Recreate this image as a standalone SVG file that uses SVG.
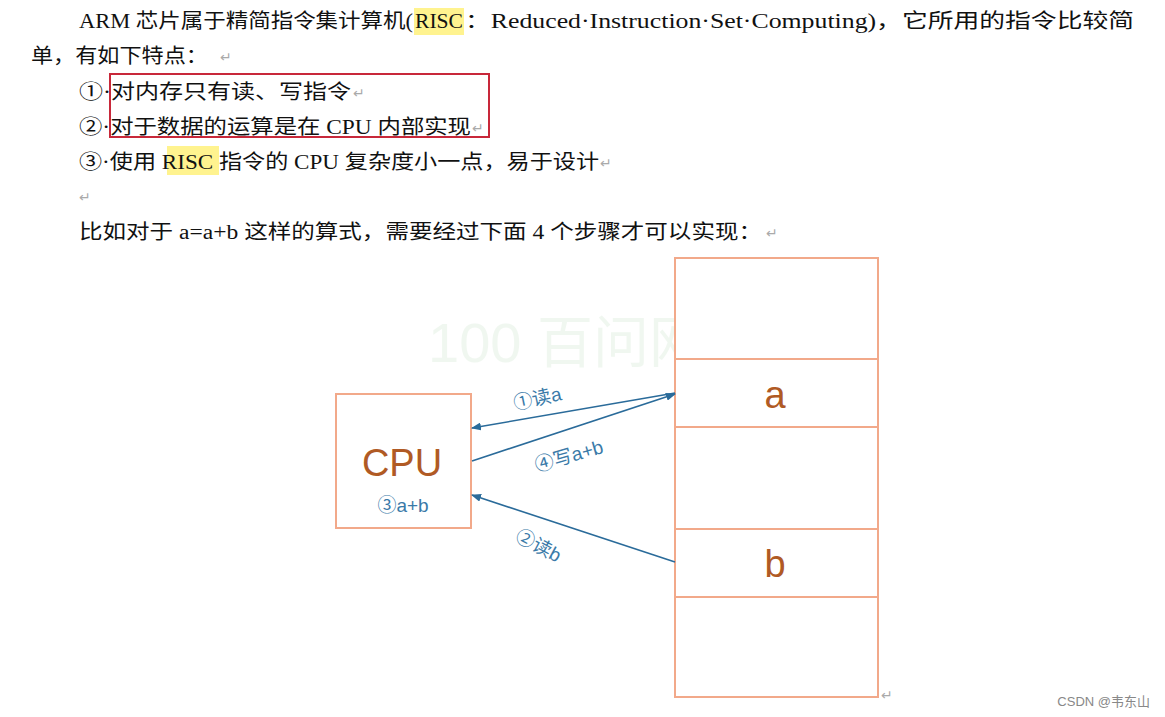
<svg xmlns="http://www.w3.org/2000/svg" width="1165" height="717" viewBox="0 0 1165 717">
<style>
.t{font-family:"Liberation Serif","Noto Sans CJK SC",serif;font-size:20px;fill:#111}
.r{fill:#aaa;font-family:"DejaVu Sans",sans-serif;font-size:14px}
.box{fill:#fff;stroke:#f2a98a;stroke-width:2}
.ln{stroke:#2a6b9a;stroke-width:1.6;fill:none}
.lb{font-family:"Liberation Sans","Noto Sans CJK SC",sans-serif;font-size:19px;fill:#3a7aa8}
.big{font-family:"Liberation Sans",sans-serif;font-size:38px;fill:#b05a24}
</style>
<defs><marker id="ah" markerWidth="10" markerHeight="8" refX="9" refY="4" orient="auto" markerUnits="userSpaceOnUse"><path d="M0,0L10,4L0,8z" fill="#2a6b9a"/></marker></defs>
<rect width="1165" height="717" fill="#fff"/>
<rect x="414" y="8" width="50" height="27" fill="#fff38f"/>
<rect x="167" y="146" width="52" height="29" fill="#fff38f"/>
<text class="t" y="28"><tspan x="79" textLength="334" lengthAdjust="spacingAndGlyphs">ARM 芯片属于精简指令集计算机(</tspan><tspan x="415" textLength="48" lengthAdjust="spacingAndGlyphs">RISC</tspan><tspan x="465" textLength="669" lengthAdjust="spacingAndGlyphs">：Reduced·Instruction·Set·Computing)，它所用的指令比较简</tspan></text>
<text class="t" x="31" y="63" textLength="177" lengthAdjust="spacingAndGlyphs">单，有如下特点：</text><text class="r" x="220" y="62">↵</text>
<text class="t" x="79" y="99" textLength="272" lengthAdjust="spacingAndGlyphs">①·对内存只有读、写指令</text><text class="r" x="353" y="98">↵</text>
<text class="t" x="79" y="134" textLength="392" lengthAdjust="spacingAndGlyphs">②·对于数据的运算是在 CPU 内部实现</text><text class="r" x="472" y="133">↵</text>
<text class="t" x="79" y="169" textLength="520" lengthAdjust="spacingAndGlyphs">③·使用 RISC 指令的 CPU 复杂度小一点，易于设计</text><text class="r" x="600" y="168">↵</text>
<text class="r" x="79" y="202">↵</text>
<text class="t" x="79" y="239" textLength="683" lengthAdjust="spacingAndGlyphs">比如对于 a=a+b 这样的算式，需要经过下面 4 个步骤才可以实现：</text><text class="r" x="766" y="238">↵</text>
<rect x="110" y="74" width="379" height="63" fill="none" stroke="#c8283a" stroke-width="2"/>
<g opacity="0.07" fill="#3a9a3a" font-family="Liberation Sans,Noto Sans CJK SC,sans-serif"><text x="428" y="362" font-size="56">100 百问网</text></g>
<g id="memory">
<rect class="box" x="675" y="258" width="203" height="439"/>
<line class="box" x1="675" y1="359" x2="878" y2="359"/>
<line class="box" x1="675" y1="427" x2="878" y2="427"/>
<line class="box" x1="675" y1="529" x2="878" y2="529"/>
<line class="box" x1="675" y1="597" x2="878" y2="597"/>
<text class="big" x="775" y="408" text-anchor="middle">a</text>
<text class="big" x="775" y="577" text-anchor="middle">b</text>
</g>
<g id="cpu">
<rect class="box" x="336" y="394" width="135" height="134"/>
<text class="big" x="402" y="476" text-anchor="middle">CPU</text>
<text class="lb" x="403" y="512" text-anchor="middle">③a+b</text>
</g>
<g id="connectors">
<line class="ln" x1="675" y1="393" x2="472" y2="428" marker-end="url(#ah)"/>
<line class="ln" x1="472" y1="461" x2="675" y2="394" marker-end="url(#ah)"/>
<line class="ln" x1="675" y1="562" x2="472" y2="495" marker-end="url(#ah)"/>
<text class="lb" x="515" y="410" transform="rotate(-12 515 410)">①读a</text>
<text class="lb" x="537" y="472" transform="rotate(-16 537 472)">④写a+b</text>
<text class="lb" x="514" y="540" transform="rotate(28 514 540)">②读b</text>
</g>
<text class="r" x="881" y="700">↵</text>
<text x="1150" y="706" text-anchor="end" font-family="Liberation Sans,Noto Sans CJK SC,sans-serif" font-size="13" fill="#888">CSDN @韦东山</text>
</svg>
